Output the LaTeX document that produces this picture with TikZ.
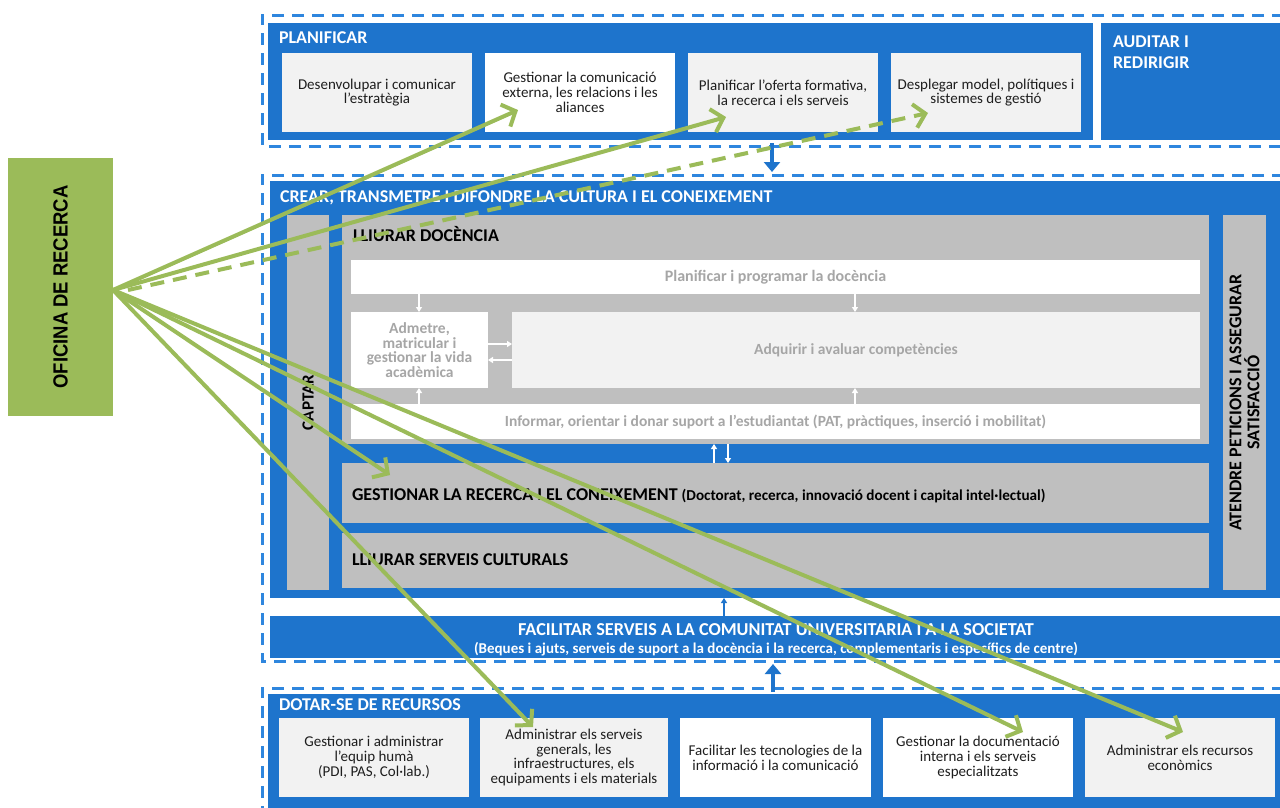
\documentclass[tikz,border=0pt]{standalone}
\usepackage{fontspec}
\setmainfont{Carlito}
\newfontfamily\arialfont{Liberation Sans}
\usetikzlibrary{arrows.meta}
\definecolor{blueM}{RGB}{30,116,204}
\definecolor{dashB}{RGB}{46,134,222}
\definecolor{grayM}{RGB}{191,191,191}
\definecolor{pale}{RGB}{242,242,242}
\definecolor{txtG}{RGB}{166,166,166}
\definecolor{greenO}{RGB}{155,187,89}
\definecolor{ink}{RGB}{30,30,30}
\begin{document}
\begin{tikzpicture}[x=1pt,y=-1pt,
  every node/.style={inner sep=0pt, outer sep=0pt},
  panel/.style={anchor=north west, draw=none},
  cell/.style={panel, align=center, text=ink, font=\fontsize{15}{14.8}\selectfont},
  hdr/.style={anchor=base west, text=white, font=\bfseries\fontsize{18}{21}\selectfont},
  hdrk/.style={anchor=base west, text=black, font=\bfseries\fontsize{18}{21}\selectfont},
  soft/.style={panel, align=center, text=txtG, font=\bfseries\fontsize{15.5}{14.6}\selectfont},
  side/.style={rotate=90, align=center, text=black, font=\bfseries\fontsize{18}{18}\selectfont},
  dashframe/.style={draw=dashB, line width=3pt, dash pattern=on 12pt off 8pt},
  flow/.style={draw=blueM, line width=4pt, -{Triangle[length=10pt,width=16pt]}},
  thinflow/.style={draw=blueM, line width=1.2pt, -{Triangle[length=5pt,width=6pt]}},
  tiny/.style={draw=white, line width=1.2pt, -{Triangle[length=5pt,width=6pt]}},
  link/.style={draw=greenO, line width=4pt, -{Straight Barb[length=11pt,width=24pt]}},
]
% page
\path[fill=white] (0,0) rectangle (1280,807);
\useasboundingbox (0,0) rectangle (1280,807);

% dashed frames of the three layers
\draw[dashframe] (1284,15) -| (262,146) -- (1284,146);
\draw[dashframe] (1284,175) -| (262,661) -- (1284,661);
\draw[dashframe] (1284,688) -| (262,812);

% ---- PLANIFICAR layer
\node[panel, fill=blueM, minimum width=825pt, minimum height=117pt] (plan) at (268,23) {};
\node[panel, fill=blueM, minimum width=185pt, minimum height=117pt] (audit) at (1101,23) {};
\node[hdr] (tplan) at (279,43) {PLANIFICAR};
\node[hdr] (taud1) at (1113,47) {AUDITAR I};
\node[hdr] (taud2) at (1113,68) {REDIRIGIR};
\node[cell, fill=pale, minimum width=190pt, minimum height=79pt] (p1) at (282,53) {Desenvolupar i comunicar\\l’estratègia};
\node[cell, fill=white, minimum width=190pt, minimum height=79pt] (p2) at (485,53) {Gestionar la comunicació\\externa, les relacions i les\\aliances};
\node[cell, fill=pale, minimum width=190pt, minimum height=79pt] (p3) at (688,53) {Planificar l’oferta formativa,\\la recerca i els serveis};
\node[cell, fill=pale, minimum width=190pt, minimum height=79pt] (p4) at (891,53) {Desplegar model, polítiques i\\sistemes de gestió};

% ---- CREAR layer
\node[panel, fill=blueM, minimum width=1015pt, minimum height=417pt] (crear) at (270,181) {};
\node[hdr] (tcrear) at (280,202) {CREAR, TRANSMETRE I DIFONDRE LA CULTURA I EL CONEIXEMENT};
\node[panel, fill=grayM, minimum width=42pt, minimum height=375pt] (captar) at (287,215) {};
\node[side, font=\bfseries\fontsize{17}{18}\selectfont] (tcaptar) at (captar.center) {CAPTAR};
\node[panel, fill=grayM, minimum width=43pt, minimum height=375pt] (aten) at (1223,215) {};
\node[side] (taten) at (aten.center) {ATENDRE PETICIONS I ASSEGURAR\\SATISFACCIÓ};

\node[panel, fill=grayM, minimum width=867pt, minimum height=229pt] (doc) at (342,215) {};
\node[hdrk] (tdoc) at (353,241) {LLIURAR DOCÈNCIA};
\node[soft, fill=white, minimum width=849pt, minimum height=34pt, font=\bfseries\fontsize{16}{15}\selectfont] (prog) at (351,260) {Planificar i programar la docència};
\node[soft, fill=white, minimum width=137pt, minimum height=76pt] (adm) at (351,312) {Admetre,\\matricular i\\gestionar la vida\\acadèmica};
\node[soft, fill=pale, minimum width=688pt, minimum height=76pt] (adq) at (512,312) {Adquirir i avaluar competències};
\node[soft, fill=white, minimum width=849pt, minimum height=35pt] (inf) at (351,404) {Informar, orientar i donar suport a l’estudiantat (PAT, pràctiques, inserció i mobilitat)};

\node[panel, fill=grayM, minimum width=867pt, minimum height=60pt] (gest) at (342,463) {};
\node[hdrk] (tgest) at (352,500) {GESTIONAR LA RECERCA I EL CONEIXEMENT {\fontsize{15.2}{17}\selectfont(Doctorat, recerca, innovació docent i capital intel·lectual)}};
\node[panel, fill=grayM, minimum width=867pt, minimum height=55pt] (cult) at (342,533) {};
\node[hdrk] (tcult) at (352,565) {LLIURAR SERVEIS CULTURALS};

% small arrows inside teaching
\draw[tiny] (prog.south -| 419,0) -- (adm.north -| 419,0);
\draw[tiny] (prog.south -| 855,0) -- (adq.north -| 855,0);
\draw[tiny] (inf.north -| 419,0) -- (adm.south -| 419,0);
\draw[tiny] (inf.north -| 855,0) -- (adq.south -| 855,0);
\draw[tiny] (adm.east |- 0,344) -- (adq.west |- 0,344);
\draw[tiny] (adq.west |- 0,360) -- (adm.east |- 0,360);
\draw[tiny] (gest.north -| 714,0) -- (doc.south -| 714,0);
\draw[tiny] (doc.south -| 728,0) -- (gest.north -| 728,0);

% ---- FACILITAR band
\node[panel, fill=blueM, minimum width=1015pt, minimum height=42pt] (fac) at (270,616) {};
\node[anchor=base, text=white, font=\bfseries\fontsize{18.2}{20}\selectfont] (tfac1) at (776,635) {FACILITAR SERVEIS A LA COMUNITAT UNIVERSITARIA I A LA SOCIETAT};
\node[anchor=base, text=white, font=\bfseries\fontsize{15}{16}\selectfont] (tfac2) at (776,653) {(Beques i ajuts, serveis de suport a la docència i la recerca, complementaris i específics de centre)};
\draw[thinflow] (fac.north -| 724,0) -- (crear.south -| 724,0);

% ---- DOTAR-SE layer
\node[panel, fill=blueM, minimum width=1017pt, minimum height=118pt] (dot) at (268,694) {};
\node[hdr] (tdot) at (279,710) {DOTAR-SE DE RECURSOS};
\node[cell, fill=pale, minimum width=190pt, minimum height=79pt] (d1) at (279,718) {Gestionar i administrar\\l’equip humà\\(PDI, PAS, Col·lab.)};
\node[cell, fill=pale, minimum width=188pt, minimum height=79pt] (d2) at (480,718) {Administrar els serveis\\generals, les\\infraestructures, els\\equipaments i els materials};
\node[cell, fill=white, minimum width=191pt, minimum height=79pt] (d3) at (680,718) {Facilitar les tecnologies de la\\informació i la comunicació};
\node[cell, fill=white, minimum width=190pt, minimum height=79pt] (d4) at (883,718) {Gestionar la documentació\\interna i els serveis\\especialitzats};
\node[cell, fill=pale, minimum width=190pt, minimum height=79pt] (d5) at (1085,718) {Administrar els recursos\\econòmics};

% flows between layers
\coordinate (fdown) at (772,172);
\coordinate (fup) at (773,664);
\draw[flow] (772,143) -- (fdown);
\draw[flow] (773,692) -- (fup);

% ---- research office and its links
\node[panel, fill=greenO, minimum width=105pt, minimum height=258pt] (ofi) at (8,158) {};
\node[rotate=90, text=black, font=\arialfont\bfseries\fontsize{20.5}{22}\selectfont] (tofi) at (ofi.center) {\scalebox{0.9}[1]{OFICINA DE RECERCA}};

\coordinate (g1) at (518,110);
\coordinate (g2) at (726,117);
\coordinate (g3) at (928,113);
\coordinate (g4) at (390,475);
\coordinate (g5) at (533,727);
\coordinate (g6) at (1023,732);
\coordinate (g7) at (1183,732);
\coordinate (src) at ([yshift=-3pt]ofi.east);
\draw[link] (src) -- (g1);
\draw[link] (src) -- (g2);
\draw[link, dash pattern=on 14pt off 9pt] ([xshift=15pt]src) -- (g3);
\draw[link] (src) -- (g4);
\draw[link] (src) -- (g5);
\draw[link] (src) -- (g6);
\draw[link] (src) -- (g7);
\end{tikzpicture}
\end{document}
